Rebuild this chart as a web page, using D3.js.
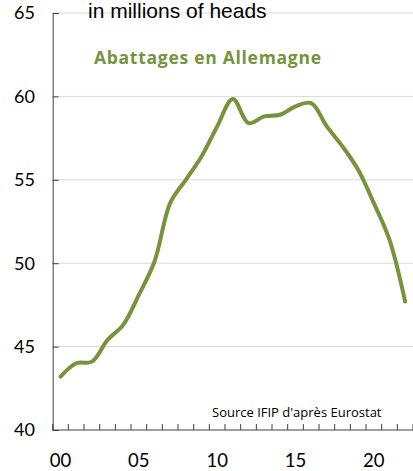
<!DOCTYPE html>
<html><head><meta charset="utf-8">
<script src="https://cdn.jsdelivr.net/npm/d3@7"></script>
<style>body{margin:0;background:#fff}svg{display:block}</style>
</head><body>
<script>
const years = ["00","01","02","03","04","05","06","07","08","09","10","11","12","13","14","15","16","17","18","19","20","21","22"];
const values = [43.2,44.0,44.1,45.4,46.3,48.1,50.1,53.6,55.0,56.4,58.2,59.85,58.4,58.8,58.9,59.4,59.6,58.2,57.0,55.6,53.6,51.4,47.7];
const yTicks = [40,45,50,55,60,65];
const xLabels = ["00","05","10","15","20"];
const unitLabel = "in millions of heads";
const titleText = "Abattages en Allemagne";
const sourceText = "Source IFIP d'après Eurostat";

const W = 413, H = 471;
const m = {left: 52.7, right: 0, top: 13, bottom: 41};
const svg = d3.select("body").append("svg").attr("width", W).attr("height", H);

const x = d3.scaleBand().domain(years).range([m.left, W - m.right]);
const y = d3.scaleLinear().domain([40, 65]).range([H - m.bottom, m.top]);
const cx = d => x(d) + x.bandwidth() / 2;
const green = "#77933c";
const sans = "Lato, 'Open Sans', sans-serif";
const sans2 = "'Open Sans', Lato, sans-serif";

// gridlines
svg.append("g").selectAll("line").data(yTicks.filter(t => t > 40)).join("line")
  .attr("x1", m.left).attr("x2", W - m.right)
  .attr("y1", d => y(d)).attr("y2", d => y(d))
  .attr("stroke", "#d9d9d9").attr("stroke-width", 1);

// y axis
const yAxis = svg.append("g").attr("transform", `translate(${m.left},0)`)
  .call(d3.axisRight(y).tickValues(yTicks).tickSize(6).tickFormat(""));
yAxis.select(".domain").attr("stroke", "#404040");
yAxis.selectAll(".tick line").attr("stroke", "#404040");
svg.append("g").selectAll("text").data(yTicks).join("text")
  .attr("x", 35).attr("y", d => y(d)).attr("dy", "0.36em")
  .attr("text-anchor", "end").attr("font-family", sans).attr("font-size", 18)
  .attr("fill", "#000").text(d => d);

// x axis
const xAxis = svg.append("g").attr("transform", `translate(0,${H - m.bottom})`)
  .call(d3.axisTop(x).tickSize(0).tickFormat(""));
xAxis.select(".domain").attr("stroke", "#404040").attr("d", `M${m.left},0H${W}`);
const bounds = years.map(d => x(d)).concat([x(years[years.length-1]) + x.bandwidth()]);
svg.append("g").selectAll("line").data(bounds).join("line")
  .attr("x1", d => d).attr("x2", d => d)
  .attr("y1", H - m.bottom).attr("y2", H - m.bottom - 6)
  .attr("stroke", "#404040");
svg.append("g").selectAll("text").data(xLabels).join("text")
  .attr("x", d => cx(d)).attr("y", 467)
  .attr("text-anchor", "middle").attr("font-family", sans).attr("font-size", 18.5)
  .attr("fill", "#000").text(d => d);

// line
const line = d3.line().x((d, i) => cx(years[i])).y(d => y(d)).curve(d3.curveCatmullRom.alpha(0.5));
svg.append("path").datum(values).attr("d", line)
  .attr("fill", "none").attr("stroke", green).attr("stroke-width", 4)
  .attr("stroke-linecap", "round").attr("stroke-linejoin", "round");

// texts
svg.append("text").attr("x", 88).attr("y", 18)
  .attr("font-family", "'Liberation Sans', Arial, sans-serif").attr("font-size", 21)
  .attr("fill", "#000").text(unitLabel);
svg.append("text").attr("x", 94).attr("y", 64)
  .attr("font-family", sans2).attr("font-weight", "bold").attr("font-size", 17.5)
  .attr("textLength", 227).attr("lengthAdjust", "spacing")
  .attr("fill", green).text(titleText);
svg.append("text").attr("x", 212).attr("y", 417)
  .attr("font-family", sans2).attr("font-size", 13)
  .attr("fill", "#000").text(sourceText);
</script>
</body></html>
